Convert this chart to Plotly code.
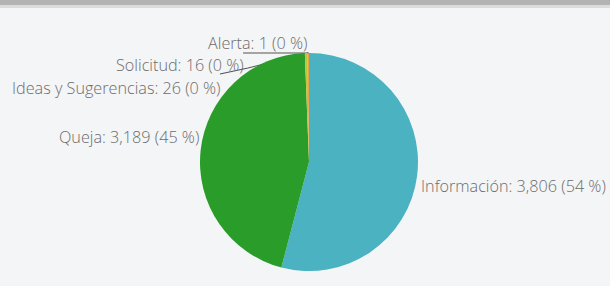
import math
import plotly.graph_objects as go

# ---- data ----
categories = ["Información", "Queja", "Ideas y Sugerencias", "Solicitud", "Alerta"]
values = [3806, 3189, 26, 16, 1]
colors = ["#4ab2c0", "#2a9c2a", "#b9c53c", "#e8a33a", "#d9534f"]

W, H = 610, 286
cx, cy, r = 309, 162, 109   # pie centre / radius in px

def px(x):
    return x / W

def py(y):
    return 1 - y / H

fig = go.Figure(go.Pie(
    labels=categories, values=values, sort=False, direction="clockwise", rotation=0,
    marker=dict(colors=colors, line=dict(width=0)),
    textinfo="none", hoverinfo="label+value+percent", showlegend=False,
    domain=dict(x=[px(cx - r), px(cx + r)], y=[py(cy + r), py(cy - r)]),
))

total = sum(values)
# mid-angle of every slice (clockwise from 12 o'clock)
mids = []
acc = 0
for v in values:
    mids.append((acc + v / 2) / total * 360)
    acc += v

def edge(i, k=1.0):
    a = math.radians(mids[i])
    return cx + r * k * math.sin(a), cy - r * k * math.cos(a)

# label placement (style): anchor side, x px, y px
label_pos = {
    "Información": ("left", 419, 186),
    "Queja": ("right", 201, 137),
    "Ideas y Sugerencias": ("right", 223, 88),
    "Solicitud": ("right", 246, 65),
    "Alerta": ("right", 309, 43),
}

annotations = []
for name, v in zip(categories, values):
    side, x, y = label_pos[name]
    annotations.append(dict(
        text=f"{name}: {v:,} ({round(v / total * 100)} %)",
        x=px(x), y=py(y), xref="paper", yref="paper",
        xanchor=side, yanchor="middle", showarrow=False,
        font=dict(family="Open Sans, sans-serif", size=16.2, color="#6c6c6c", weight=300),
    ))

shapes = [
    dict(type="rect", xref="paper", yref="paper", x0=0, x1=1, y0=py(5), y1=1,
         fillcolor="#b3b3b3", line=dict(width=0)),
    dict(type="rect", xref="paper", yref="paper", x0=0, x1=1, y0=py(8), y1=py(5),
         fillcolor="#dcdcdc", line=dict(width=0)),
]
# leader line for Alerta
ax, ay = edge(4)
shapes.append(dict(type="path", xref="paper", yref="paper", layer="below",
                   path=f"M {px(243)} {py(ay)} L {px(ax)} {py(ay)}",
                   line=dict(color="#555555", width=1.2)))
# leader line for Solicitud
sx, sy = edge(3)
shapes.append(dict(type="path", xref="paper", yref="paper", layer="below",
                   path=f"M {px(220)} {py(74)} L {px(248)} {py(68)} L {px(sx)} {py(sy)}",
                   line=dict(color="#555555", width=1.2)))

fig.update_layout(
    width=W, height=H, margin=dict(l=0, r=0, t=0, b=0),
    paper_bgcolor="#f4f5f6", plot_bgcolor="#f4f5f6",
    annotations=annotations, shapes=shapes,
)

fig.write_html("out.html", config={"displayModeBar": False},
               post_script="document.body.style.margin='0';document.body.style.overflow='hidden';")
